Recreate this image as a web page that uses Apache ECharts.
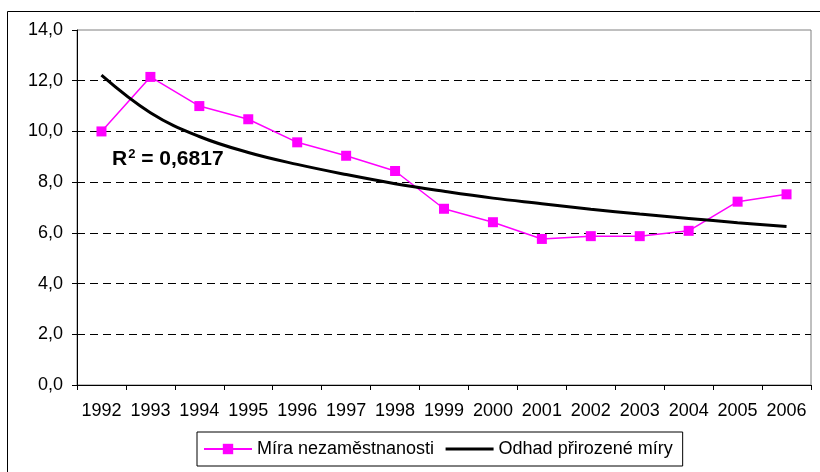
<!DOCTYPE html>
<html>
<head>
<meta charset="utf-8">
<script src="https://cdn.jsdelivr.net/npm/echarts@6/dist/echarts.min.js"></script>
<style>
  html, body { margin: 0; padding: 0; background: #fff; }
  #chart { width: 820px; height: 472px; }
</style>
</head>
<body>
<div id="chart"></div>
<script>
// roky
const years = ['1992', '1993', '1994', '1995', '1996', '1997', '1998', '1999',
  '2000', '2001', '2002', '2003', '2004', '2005', '2006'];
// míra nezaměstnanosti (%)
const unemployment = [10.0, 12.15, 11.0, 10.48, 9.57, 9.04, 8.44, 6.95,
  6.42, 5.76, 5.87, 5.87, 6.08, 7.23, 7.52];
// odhad přirozené míry (trend)
const naturalRate = [12.22, 10.74, 9.8, 9.17, 8.7, 8.3, 7.94, 7.64,
  7.37, 7.15, 6.93, 6.74, 6.57, 6.4, 6.25];
const yTicks = [0, 2, 4, 6, 8, 10, 12, 14];

const font = 'Liberation Sans, Arial, sans-serif';
const chart = echarts.init(document.getElementById('chart'));

chart.setOption({
  animation: false,
  backgroundColor: '#fff',
  textStyle: { fontFamily: font, color: '#000' },
  grid: {
    left: 77, right: 9, top: 30, bottom: 87,
    show: true,
    borderColor: '#808080',
    borderWidth: 1
  },
  graphic: [
    {
      type: 'rect',
      shape: { x: 7.5, y: 11.5, width: 830, height: 480 },
      style: { fill: null, stroke: '#000', lineWidth: 1 },
      silent: true,
      z: -1
    },
    {
      type: 'text',
      left: 112,
      top: 148,
      style: {
        text: '{r|R}{s|2}{r| = 0,6817}',
        rich: {
          r: { fontSize: 21, fontWeight: 'bold', fontFamily: font, fill: '#000', verticalAlign: 'bottom' },
          s: { fontSize: 13, fontWeight: 'bold', fontFamily: font, fill: '#000', verticalAlign: 'top', padding: [0, 0, 9, 1] }
        }
      },
      z: 10
    }
  ],
  legend: {
    left: 197,
    top: 432,
    padding: [8, 10, 8, 6],
    itemGap: 10,
    itemWidth: 48,
    itemHeight: 13,
    borderColor: '#000',
    borderWidth: 1,
    textStyle: { fontSize: 18, fontFamily: font, color: '#000' },
    data: [
      { name: 'Míra nezaměstnanosti' },
      { name: 'Odhad přirozené míry', itemStyle: { opacity: 0 }, lineStyle: { width: 3 } }
    ]
  },
  xAxis: {
    type: 'category',
    data: years,
    boundaryGap: true,
    axisLine: { lineStyle: { color: '#000', width: 1 } },
    axisTick: { show: true, length: 5, alignWithLabel: false, lineStyle: { color: '#000' } },
    axisLabel: { fontSize: 18, color: '#000', margin: 17, interval: 0 },
    splitLine: { show: false }
  },
  yAxis: {
    type: 'value',
    min: yTicks[0],
    max: yTicks[yTicks.length - 1],
    interval: 2,
    axisLine: { show: true, lineStyle: { color: '#000', width: 1 } },
    axisTick: { show: true, length: 5, lineStyle: { color: '#000' } },
    axisLabel: {
      fontSize: 18, color: '#000', margin: 14,
      formatter: v => v.toFixed(1).replace('.', ',')
    },
    splitLine: {
      show: true,
      lineStyle: {
        color: ['#000', '#000', '#000', '#000', '#000', '#000', '#000', 'transparent'],
        type: [8, 5],
        width: 1
      }
    }
  },
  series: [
    {
      name: 'Míra nezaměstnanosti',
      type: 'line',
      data: unemployment,
      symbol: 'rect',
      symbolSize: 10,
      itemStyle: { color: '#ff00ff' },
      lineStyle: { color: '#ff00ff', width: 1.5 },
      z: 3
    },
    {
      name: 'Odhad přirozené míry',
      type: 'line',
      data: naturalRate,
      symbol: 'none',
      smooth: 0.4,
      itemStyle: { color: '#000' },
      lineStyle: { color: '#000', width: 3 },
      z: 4
    }
  ]
});
</script>
</body>
</html>
